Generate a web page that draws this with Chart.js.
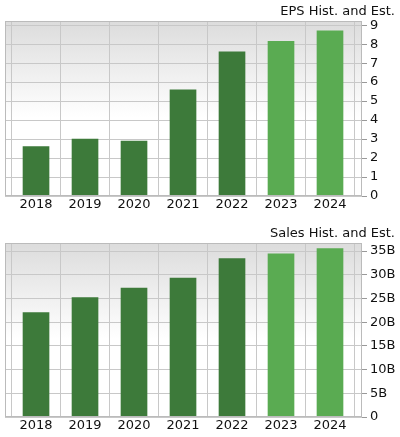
<!DOCTYPE html>
<html><head><meta charset="utf-8">
<script src="https://cdn.jsdelivr.net/npm/chart.js@4"></script>
<style>body{margin:0;background:#fff}div{position:absolute;left:0;width:400px}</style>
</head><body>
<div id="d1" style="top:0;height:215px"><canvas id="c1"></canvas></div>
<div id="d2" style="top:215px;height:222px"><canvas id="c2"></canvas></div>
<script>
const years = ["2018","2019","2020","2021","2022","2023","2024"];
const epsValues = [2.6, 3.0, 2.9, 5.6, 7.6, 8.15, 8.7];
const salesValues = [22.0, 25.2, 27.2, 29.3, 33.4, 34.4, 35.5];
const estimateFrom = 5;
const epsTicks = [0,1,2,3,4,5,6,7,8,9];
const salesTicks = [0,5,10,15,20,25,30,35];
const salesTickLabels = ["0","5B","10B","15B","20B","25B","30B","35B"];

const bgPlugin = {id:'bg', beforeDraw(ch){const a=ch.chartArea,c=ch.ctx;const g=c.createLinearGradient(0,a.top,0,a.bottom);g.addColorStop(0,'#dcdcdc');g.addColorStop(0.55,'#ffffff');g.addColorStop(1,'#ffffff');c.save();c.fillStyle=g;c.fillRect(a.left,a.top,a.right-a.left,a.bottom-a.top);c.restore();},
 afterDraw(ch){const a=ch.chartArea,c=ch.ctx;c.save();c.strokeStyle='#bbbbbb';c.lineWidth=1;c.strokeRect(a.left+0.5,a.top+0.5,a.right-a.left-1,a.bottom-a.top-1);c.fillStyle='#111';c.font='13px "DejaVu Sans"';c.textAlign='right';c.textBaseline='bottom';c.fillText(ch.options.plugins.ttl,395,a.top-3);c.restore();}};

function make(id, vals, ticks, labels, max, top, xh, title){
  new Chart(document.getElementById(id),{type:'bar',
    data:{datasets:[{data:vals.map((v,i)=>({x:i,y:v})),backgroundColor:vals.map((v,i)=>i>=estimateFrom?'#5aab52':'#3d7a3a'),barThickness:26}]},
    options:{responsive:true,maintainAspectRatio:false,animation:false,
      layout:{padding:{top:top,left:5,right:0,bottom:0}},
      plugins:{legend:{display:false},tooltip:{enabled:false},ttl:title},
      scales:{
        x:{type:'linear',min:-0.633,max:6.653,offset:false,
          afterBuildTicks:s=>{s.ticks=years.map((y,i)=>({value:i}));},
          afterFit:s=>{s.height=xh;},
          grid:{color:'#c8c8c8',drawTicks:false},border:{display:false},
          ticks:{callback:(v)=>years[v],color:'#111',font:{family:'DejaVu Sans',size:13},padding:1,maxRotation:0,autoSkip:false}},
        y:{position:'right',min:0,max:max,
          afterBuildTicks:s=>{s.ticks=ticks.map(v=>({value:v}));},
          afterFit:s=>{s.width=38;},
          grid:{color:'#c8c8c8',tickLength:5,tickColor:'#999'},border:{display:false},
          ticks:{callback:(v)=>labels[ticks.indexOf(v)],color:'#111',font:{family:'DejaVu Sans',size:13},padding:3}}
      }},plugins:[bgPlugin]});
}
make('c1', epsValues, epsTicks, epsTicks.map(String), 9.22, 21, 19, 'EPS Hist. and Est.');
make('c2', salesValues, salesTicks, salesTickLabels, 36.7, 28, 20, 'Sales Hist. and Est.');
</script></body></html>
